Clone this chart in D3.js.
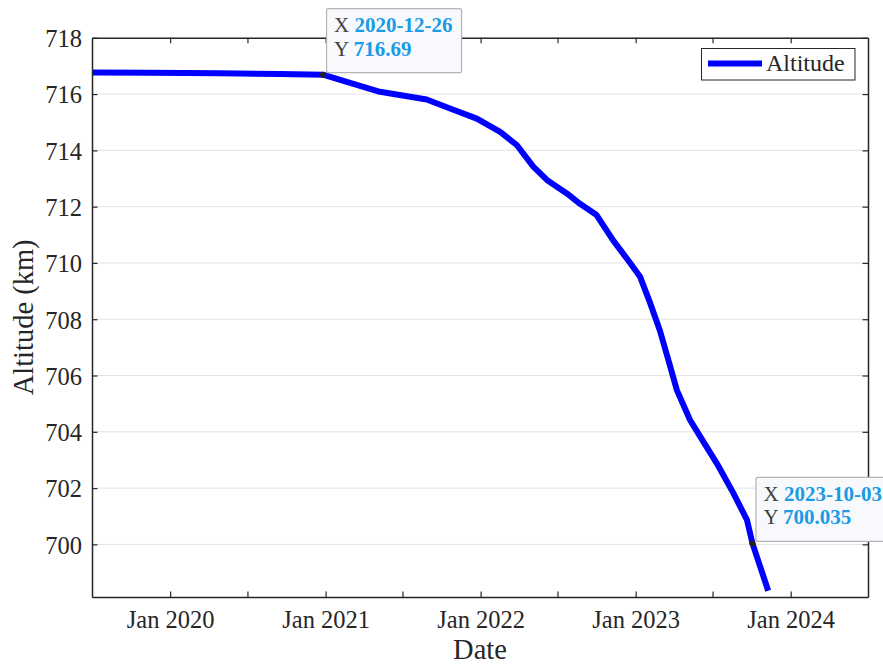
<!DOCTYPE html>
<html>
<head>
<meta charset="utf-8">
<script src="https://cdn.jsdelivr.net/npm/d3@7"></script>
<style>
  body { margin: 0; background: #fff; }
  text { font-family: "Palatino Linotype", Palatino, "Book Antiqua", "Liberation Serif", serif; }
</style>
</head>
<body>
<svg id="chart" width="883" height="664"></svg>
<script>
// altitude readings (km)
const dates = ["2019-07-01", "2019-11-14", "2020-04-27", "2020-09-16", "2020-12-26", "2021-02-12",
    "2021-05-09", "2021-08-27", "2021-10-21", "2021-12-23", "2022-02-16", "2022-03-27", "2022-05-05",
    "2022-06-06", "2022-07-23", "2022-08-23", "2022-10-01", "2022-11-09", "2022-12-19", "2023-01-11",
    "2023-02-04", "2023-02-27", "2023-03-19", "2023-04-08", "2023-05-09", "2023-06-02", "2023-07-11",
    "2023-08-19", "2023-09-20", "2023-10-03", "2023-11-09"];
const altitudes = [716.77, 716.76, 716.74, 716.71, 716.69, 716.47,
    716.08, 715.81, 715.49, 715.13, 714.66, 714.19, 713.42,
    712.95, 712.47, 712.10, 711.70, 710.80, 710.00, 709.52,
    708.58, 707.60, 706.55, 705.48, 704.42, 703.83, 702.88,
    701.82, 700.87, 700.035, 698.35];
const yTicks = [700, 702, 704, 706, 708, 710, 712, 714, 716, 718];
const xTickDates = ["2020-01-01", "2020-07-01", "2021-01-01", "2021-07-01", "2022-01-01",
    "2022-07-01", "2023-01-01", "2023-07-01", "2024-01-01"];
const xTickLabels = ["Jan 2020", "", "Jan 2021", "", "Jan 2022", "", "Jan 2023", "", "Jan 2024"];
const tips = [{ date: "2020-12-26", value: "716.69" }, { date: "2023-10-03", value: "700.035" }];
const seriesName = "Altitude";

const parse = d3.timeParse("%Y-%m-%d");
let dataArray = dates.map((d, i) => ({ logDate: parse(d), value: altitudes[i] }));

const mLeft = 92, mRight = 868, mTop = 37.8, mBottom = 597;
const axisColor = "#262626";
const svg = d3.select("#chart");

let xscale = d3.scaleTime().domain([parse("2019-07-01"), parse("2024-07-01")]).range([mLeft, mRight]);
let yscale = d3.scaleLinear().domain([698.13, 718]).range([mBottom, mTop]);

svg.append("defs").append("clipPath").attr("id", "plotclip")
    .append("rect").attr("x", mLeft).attr("y", mTop).attr("width", mRight - mLeft).attr("height", mBottom - mTop);

// horizontal grid
svg.append("g").selectAll("line")
    .data(yTicks.filter(t => t < 718))
    .enter().append("line")
    .attr("x1", mLeft).attr("x2", mRight)
    .attr("y1", d => yscale(d)).attr("y2", d => yscale(d))
    .attr("stroke", "#e2e2e2").attr("stroke-width", 1);

// the series
const line = d3.line().x(d => xscale(d.logDate)).y(d => yscale(d.value));
svg.append("path")
    .datum(dataArray)
    .attr("clip-path", "url(#plotclip)")
    .attr("d", line)
    .attr("fill", "none")
    .attr("stroke", "#0000ff")
    .attr("stroke-width", 6)
    .attr("stroke-linejoin", "round");

// axes: ticks on all four sides, pointing inward
const xTicks = xTickDates.map(parse);
const gx = svg.append("g").attr("transform", `translate(0,${mBottom})`)
    .call(d3.axisBottom(xscale).tickValues(xTicks).tickSizeInner(-5.5).tickSizeOuter(0)
        .tickFormat((d, i) => xTickLabels[i]));
const gxTop = svg.append("g").attr("transform", `translate(0,${mTop})`)
    .call(d3.axisTop(xscale).tickValues(xTicks).tickSizeInner(-5.5).tickSizeOuter(0).tickFormat(""));
const gy = svg.append("g").attr("transform", `translate(${mLeft},0)`)
    .call(d3.axisLeft(yscale).tickValues(yTicks).tickSizeInner(-5.5).tickSizeOuter(0));
const gyRight = svg.append("g").attr("transform", `translate(${mRight},0)`)
    .call(d3.axisRight(yscale).tickValues(yTicks).tickSizeInner(-5.5).tickSizeOuter(0).tickFormat(""));

[gx, gxTop, gy, gyRight].forEach(g => {
    g.select(".domain").attr("stroke", axisColor).attr("stroke-width", 1.5);
    g.selectAll(".tick line").attr("stroke", axisColor).attr("stroke-width", 1.2);
    g.selectAll("text").attr("fill", axisColor).style("font-size", "24.5px")
        .style("font-family", "\"Palatino Linotype\", Palatino, \"Liberation Serif\", serif");
});
gx.selectAll("text").attr("y", 14);
gy.selectAll("text").attr("x", -10).attr("dy", "0.36em");

// axis titles
svg.append("text").attr("x", (mLeft + mRight) / 2).attr("y", 659)
    .attr("text-anchor", "middle").attr("fill", axisColor).style("font-size", "28.5px").text("Date");
svg.append("text").attr("transform", `translate(33,${(mTop + mBottom) / 2}) rotate(-90)`)
    .attr("text-anchor", "middle").attr("fill", axisColor).style("font-size", "28.5px").text("Altitude (km)");

// legend
const lg = svg.append("g");
lg.append("rect").attr("x", 701.5).attr("y", 48.5).attr("width", 153.5).attr("height", 31.5)
    .attr("fill", "#fff").attr("stroke", axisColor).attr("stroke-width", 1);
lg.append("line").attr("x1", 708).attr("x2", 762).attr("y1", 63.5).attr("y2", 63.5)
    .attr("stroke", "#0000ff").attr("stroke-width", 6);
lg.append("text").attr("x", 766).attr("y", 71).attr("fill", axisColor)
    .style("font-size", "24px").text(seriesName);

// data tips
tips.forEach(t => {
    let px = xscale(parse(t.date)), py = yscale(+t.value);
    let g = svg.append("g");
    g.append("rect").attr("x", px + 3.5).attr("y", py - 66).attr("width", 135).attr("height", 64)
        .attr("rx", 2).attr("fill", "#f8f9fc").attr("stroke", "#b4b4b4").attr("stroke-width", 1.2);
    let tx = g.append("text").attr("x", px + 11).attr("y", py - 42.5).style("font-size", "21px");
    tx.append("tspan").attr("fill", "#404040").text("X ");
    tx.append("tspan").attr("fill", "#1a9be6").attr("font-weight", "bold").text(t.date);
    let ty = g.append("text").attr("x", px + 11).attr("y", py - 19).style("font-size", "21px");
    ty.append("tspan").attr("fill", "#404040").text("Y ");
    ty.append("tspan").attr("fill", "#1a9be6").attr("font-weight", "bold").text(t.value);
    g.append("circle").attr("cx", px).attr("cy", py).attr("r", 3).attr("fill", "#222");
});
</script>
</body>
</html>
